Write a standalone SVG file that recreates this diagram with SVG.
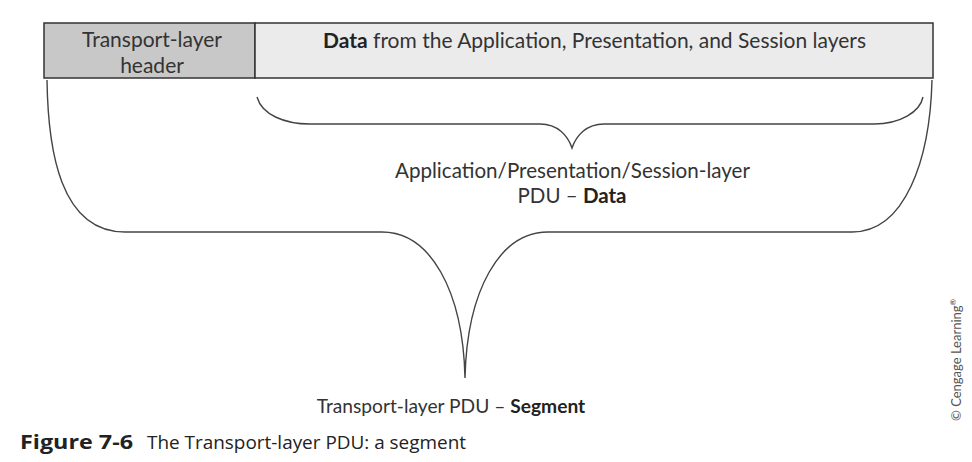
<svg xmlns="http://www.w3.org/2000/svg" width="972" height="462" viewBox="0 0 972 462">
<style>
.t{font-family:Lato,"Open Sans",sans-serif;font-size:21px;fill:#333}
.m{font-size:20.5px}
.s{font-size:19.2px}
.b{font-weight:bold;fill:#222}
.br{fill:none;stroke:#444;stroke-width:1.4}
.cap{font-family:"Open Sans",Lato,sans-serif;font-size:18px;fill:#222}
.capb{font-weight:bold;font-size:19px}
</style>
<rect width="972" height="462" fill="#fff"/>
<g id="header">
<rect x="44" y="23" width="211" height="55" fill="#c8c8c8" stroke="#333" stroke-width="1.5"/>
<text class="t" x="152" y="47" text-anchor="middle">Transport-layer</text>
<text class="t" x="152" y="73" text-anchor="middle">header</text>
</g>
<g id="data">
<rect x="255" y="23" width="678" height="55" fill="#ebebeb" stroke="#333" stroke-width="1.5"/>
<text class="t" x="323" y="48" textLength="543" lengthAdjust="spacingAndGlyphs"><tspan class="b">Data</tspan> from the Application, Presentation, and Session layers</text>
</g>
<g id="connectors">
<path class="br" d="M257,97 C262,115 285,124 310,124 L540,124 C558,124 568,136 572,148 C576,136 586,124 604,124 L874,124 C900,124 920,112 923,97"/>
<path class="br" d="M47,80 C48,150 60,232 125,232 L382,232 C430,232 463,290 465,378 C467,290 500,232 548,232 L852,232 C905,232 930,160 932,80"/>
</g>
<g id="labels">
<text class="t m" x="395" y="178" textLength="355" lengthAdjust="spacingAndGlyphs">Application/Presentation/Session-layer</text>
<text class="t m" x="572" y="203" text-anchor="middle">PDU – <tspan class="b">Data</tspan></text>
<text class="t s" x="451" y="413" text-anchor="middle">Transport-layer PDU – <tspan class="b">Segment</tspan></text>
</g>
<g id="caption">
<text class="cap capb" x="20" y="449" textLength="113" lengthAdjust="spacingAndGlyphs">Figure 7-6</text>
<text class="cap" x="147" y="449" textLength="319" lengthAdjust="spacingAndGlyphs">The Transport-layer PDU: a segment</text>
</g>
<text font-family="Lato,'Open Sans',sans-serif" font-size="13" fill="#555" transform="translate(961,421) rotate(-90)">© Cengage Learning<tspan font-size="8" dy="-5">®</tspan></text>
</svg>
